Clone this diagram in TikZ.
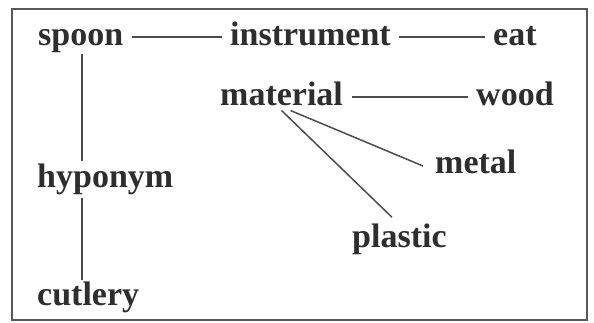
\documentclass[tikz,border=0pt]{standalone}
\usepackage{fontspec}
\setmainfont{Liberation Serif}
\begin{document}
\begin{tikzpicture}[x=1pt,y=-1pt,
  word/.style={inner sep=0pt,anchor=base west,text=black!82,
    font=\fontsize{34}{40}\selectfont\bfseries},
  link/.style={draw=black!70,line width=1.5pt},
  frame/.style={draw=black!65,line width=2pt}]
  \useasboundingbox (0,0) rectangle (594,322);
  \draw[frame] (12,9) rectangle (587,320);

  \node[word] (spoon)      at (38,45)   {spoon};
  \node[word] (instrument) at (230,45)  {instrument};
  \node[word] (eat)        at (493,45)  {eat};
  \node[word] (material)   at (220,105) {material};
  \node[word] (wood)       at (476,105) {wood};
  \node[word] (metal)      at (435,173) {metal};
  \node[word] (plastic)    at (352,247) {plastic};
  \node[word] (hyponym)    at (37,187)  {hyponym};
  \node[word] (cutlery)    at (37,305)  {cutlery};

  % horizontal relations, drawn at half the x-height
  \draw[link] ([xshift=9pt,yshift=8pt]spoon.base east) -- ([xshift=-8pt,yshift=8pt]instrument.base west);
  \draw[link] ([xshift=8pt,yshift=8pt]instrument.base east) -- ([xshift=-8pt,yshift=8pt]eat.base west);
  \draw[link] ([xshift=9pt,yshift=8pt]material.base east) -- ([xshift=-8pt,yshift=8pt]wood.base west);

  % hyponymy chain
  \draw[link,shorten <=2pt,shorten >=2pt]
    ([xshift=1.5pt]spoon.south) -- ([xshift=1.5pt]spoon.south |- hyponym.north);
  \draw[link,shorten <=3pt,shorten >=1pt]
    ([xshift=1.5pt]spoon.south |- hyponym.south) -- ([xshift=1.5pt]spoon.south |- cutlery.north);

  % materials
  \draw[link] ([yshift=-5pt]material.south) -- ([xshift=-7.5pt,yshift=6pt]plastic.north);
  \draw[link] ([xshift=9pt,yshift=-5pt]material.south) -- ([xshift=-12pt,yshift=7pt]metal.base west);
\end{tikzpicture}
\end{document}
